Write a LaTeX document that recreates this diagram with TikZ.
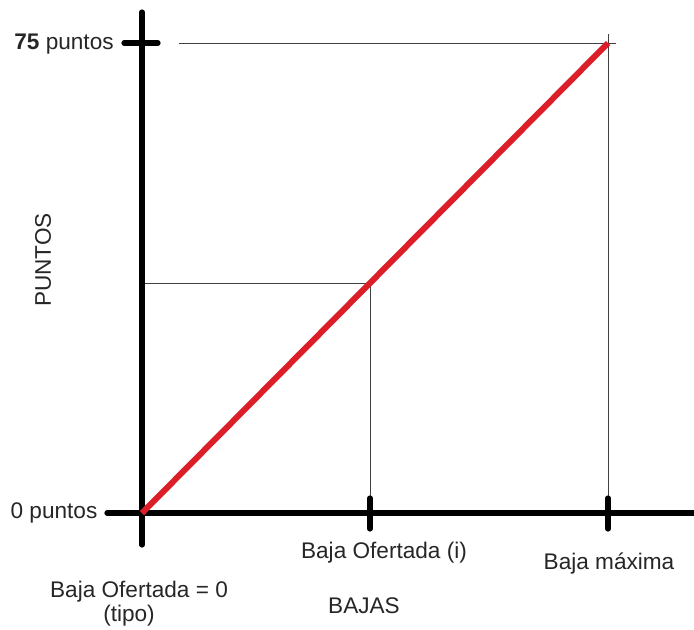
\documentclass[tikz,border=0pt]{standalone}
\usepackage{fontspec}
\setmainfont{Liberation Sans}
\begin{document}
\begin{tikzpicture}[x=0.5pt,y=-0.5pt,
  axis/.style={line width=2.6pt,black},
  tickmark/.style={line width=2.6pt,black},
  thinline/.style={line width=0.5pt,black!75},
  redline/.style={line width=3pt,color={rgb,255:red,220;green,30;blue,40}},
  lbl/.style={font=\fontsize{11.3pt}{13pt}\selectfont,inner sep=0pt,text=black!85}]
\useasboundingbox (0,0) rectangle (694,629);
% coordinates
\coordinate (O) at (142,513);
\coordinate (ytop) at (142,12);
\coordinate (ybot) at (142,545);
\coordinate (xleft) at (107,513);
\coordinate (xright) at (694,513);
\coordinate (P) at (370,283);
\coordinate (M) at (608,43);
\coordinate (Px) at (370,513);
\coordinate (Py) at (142,283);
\coordinate (Mx) at (608,513);
\coordinate (Mtop) at (608,34);
\coordinate (hl) at (179,43);
\coordinate (hr) at (616,43);
\coordinate (t1a) at (124,43);
\coordinate (t1b) at (158,43);
\coordinate (t2a) at (370,498);
\coordinate (t2b) at (370,529);
\coordinate (t3a) at (608,498);
\coordinate (t3b) at (608,529);
% thin guides
\draw[thinline] (hl) -- (hr);
\draw[thinline] (Mtop) -- (Mx);
\draw[thinline] (Py) -- (P) -- (Px);
% axes
\draw[axis,line cap=round] (ytop) -- (ybot);
\draw[axis,line cap=round] (xleft) -- (xright);
% ticks
\draw[tickmark,line cap=round] (t1a) -- (t1b);
\draw[tickmark,line cap=round] (t2a) -- (t2b);
\draw[tickmark,line cap=round] (t3a) -- (t3b);
% red line
\draw[redline] (O) -- (M);
% labels
\node[lbl] (l75) at (64,44) {\textbf{75} puntos};
\node[lbl] (l0) at (54,513) {0 puntos};
\node[lbl,rotate=90] (lp) at (43,260) {PUNTOS};
\node[lbl] (lbi) at (384,553) {Baja Ofertada (i)};
\node[lbl] (lbm) at (609,564) {Baja máxima};
\node[lbl] (lb0) at (139,592) {Baja Ofertada = 0};
\node[lbl] (lt) at (129,616) {(tipo)};
\node[lbl] (lbs) at (364,606) {BAJAS};
\end{tikzpicture}
\end{document}
